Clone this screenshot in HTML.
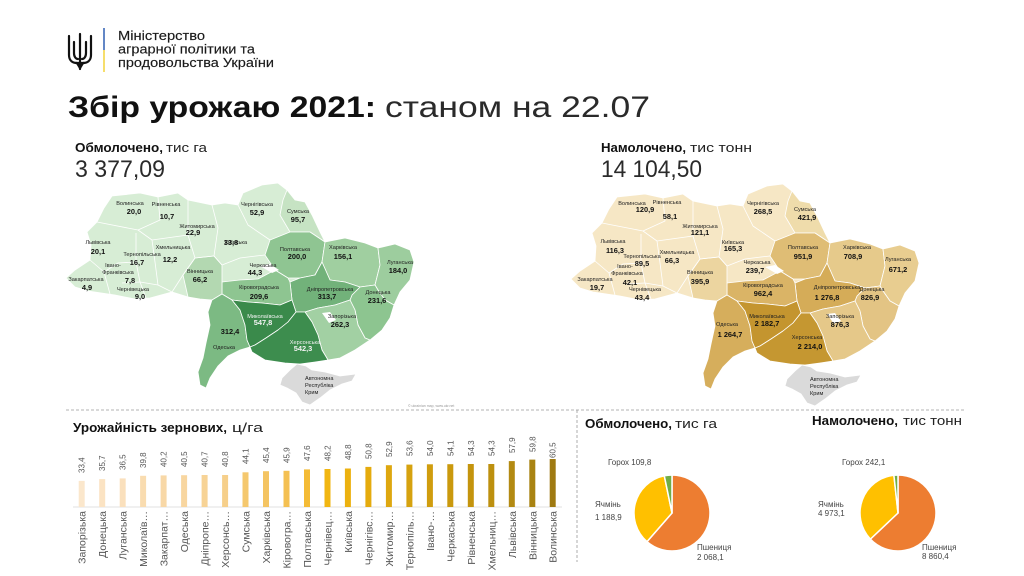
<!DOCTYPE html>
<html><head><meta charset="utf-8"><style>
html,body{margin:0;padding:0;background:#fff;}
svg{display:block;}
text{font-family:"Liberation Sans","DejaVu Sans",sans-serif;}
.nm{font-size:5.6px;fill:#222;text-anchor:middle;}
.vl{font-size:7.4px;font-weight:bold;fill:#111;text-anchor:middle;}
.wt{fill:#f4f4f4;}
.bv{font-size:8px;fill:#555;}
.bc{font-size:10.5px;fill:#555;text-anchor:end;}
.pl{font-size:8px;fill:#444;}
</style></head><body>
<svg width="1024" height="576" viewBox="0 0 1024 576" xmlns="http://www.w3.org/2000/svg">
<rect width="1024" height="576" fill="#fff"/>

<!-- trident -->
<g transform="translate(67,33)" fill="none" stroke="#111" stroke-width="2.2" stroke-linecap="round" stroke-linejoin="round">
<path d="M2,3 L2,22 C2,28 6,30 10,30"/>
<path d="M24,3 L24,22 C24,28 20,30 16,30"/>
<path d="M13,1 L13,36"/>
<path d="M7,9 L7,20 C7,24 9,26 11,26"/>
<path d="M19,9 L19,20 C19,24 17,26 15,26"/>
<path d="M9,30 L17,30 M10,30 L13,35 L16,30"/>
</g>
<line x1="104" y1="28" x2="104" y2="50" stroke="#2f5fb3" stroke-width="1.5"/>
<line x1="104" y1="50" x2="104" y2="72" stroke="#f3d23a" stroke-width="1.5"/>
<g fill="#1a1a1a" stroke="#1a1a1a" stroke-width="0.15" font-size="13">
<text x="118" y="40" textLength="87" lengthAdjust="spacingAndGlyphs">Міністерство</text>
<text x="118" y="53.5" textLength="137" lengthAdjust="spacingAndGlyphs">аграрної політики та</text>
<text x="118" y="67" textLength="156" lengthAdjust="spacingAndGlyphs">продовольства України</text>
</g>

<!-- title -->
<text x="68" y="117" font-size="30" font-weight="bold" fill="#111" textLength="308" lengthAdjust="spacingAndGlyphs">Збір урожаю 2021:</text>
<text x="385" y="117" font-size="30" fill="#2a2a2a" textLength="265" lengthAdjust="spacingAndGlyphs">станом на 22.07</text>

<text x="75" y="152" font-size="13" font-weight="bold" fill="#111" textLength="88" lengthAdjust="spacingAndGlyphs">Обмолочено,</text>
<text x="166" y="152" font-size="13" fill="#222" textLength="41" lengthAdjust="spacingAndGlyphs">тис га</text>
<text x="75" y="177" font-size="24" fill="#2a2a2a" textLength="90" lengthAdjust="spacingAndGlyphs">3 377,09</text>

<text x="601" y="152" font-size="13" font-weight="bold" fill="#111" textLength="85" lengthAdjust="spacingAndGlyphs">Намолочено,</text>
<text x="690" y="152" font-size="13" fill="#222" textLength="62" lengthAdjust="spacingAndGlyphs">тис тонн</text>
<text x="601" y="177" font-size="24" fill="#2a2a2a" textLength="101" lengthAdjust="spacingAndGlyphs">14 104,50</text>

<!-- dashed separators -->
<line x1="66" y1="410" x2="966" y2="410" stroke="#9a9a9a" stroke-width="0.8" stroke-dasharray="3,2"/>
<line x1="577" y1="410" x2="577" y2="562" stroke="#9a9a9a" stroke-width="0.8" stroke-dasharray="3,2"/>

<!-- LEFT MAP -->
<g stroke="#fff" stroke-width="0.8" stroke-linejoin="round">
<path fill="#d7edd5" d="M112,196 L140,193 L158,197 L178,193 L188,200 L212,205 L225,203 L238,205 L243,193 L262,185 L278,183 L287,190 L295,200 L305,202 L312,215 L320,232 L325,242 L345,238 L365,243 L378,248 L395,244 L410,250 L414,262 L410,280 L400,292 L394,305 L390,318 L382,330 L370,340 L355,350 L340,358 L328,360 L315,362 L300,364 L285,363 L265,360 L252,352 L250,347 L240,350 L228,356 L218,366 L210,378 L206,388 L200,385 L198,372 L203,358 L206,343 L210,325 L208,312 L212,300 L200,299 L188,297 L172,292 L150,298 L135,299 L115,295 L88,291 L75,287 L66,278 L75,270 L90,260 L91,245 L87,232 L97,222 L104,208 Z"/>
<path fill="#c6e3c3" d="M287,190 L295,200 L305,202 L312,215 L320,232 L325,242 L310,232 L290,232 L280,215 L283,200 Z"/>
<path fill="#8fc592" d="M270,240 L290,232 L310,232 L325,242 L322,262 L315,275 L300,278 L288,278 L275,270 L265,255 Z"/>
<path fill="#a0cfa0" d="M325,242 L345,238 L365,243 L378,248 L380,265 L375,285 L360,287 L345,282 L330,280 L322,262 Z"/>
<path fill="#9dcd9e" d="M378,248 L395,244 L410,250 L414,262 L410,280 L400,292 L394,305 L385,300 L378,290 L375,285 L380,265 Z"/>
<path fill="#8dc590" d="M360,287 L375,285 L378,290 L385,300 L394,305 L390,318 L382,330 L370,340 L365,338 L358,325 L355,310 L350,300 L352,295 Z"/>
<path fill="#72b27a" d="M290,282 L300,278 L315,275 L322,262 L330,280 L345,282 L360,287 L352,295 L350,300 L335,305 L318,308 L305,312 L296,312 L292,300 Z"/>
<path fill="#a2d0a3" d="M305,312 L318,308 L335,305 L350,300 L355,310 L358,325 L365,338 L370,340 L355,350 L340,358 L328,360 L322,350 L318,335 L312,322 Z"/>
<path fill="#8ec591" d="M222,282 L240,280 L258,279 L275,270 L288,278 L290,282 L292,300 L280,305 L262,303 L248,302 L232,300 L222,294 Z"/>
<path fill="#b3d8b1" d="M195,258 L214,256 L222,265 L222,282 L222,294 L212,300 L200,299 L188,297 L183,275 Z"/>
<path fill="#7cba83" d="M212,300 L222,294 L232,300 L240,310 L245,325 L247,340 L250,347 L240,350 L228,356 L218,366 L210,378 L206,388 L200,385 L198,372 L203,358 L206,343 L210,325 L208,312 Z"/>
<path fill="#3a8a4b" d="M232,300 L248,302 L262,303 L280,305 L292,300 L296,312 L288,322 L278,330 L266,338 L255,345 L250,347 L247,340 L245,325 L240,310 Z"/>
<path fill="#3d8d4e" d="M296,312 L305,312 L312,322 L318,335 L322,350 L328,360 L315,362 L300,364 L285,363 L265,360 L252,352 L250,347 L255,345 L266,338 L278,330 L288,322 Z"/>
<path fill="#dadada" d="M282,378 L290,370 L297,364 L306,366 L312,370 L325,372 L340,376 L356,374 L352,381 L342,384 L330,390 L320,398 L310,405 L302,402 L296,393 L287,388 L280,385 Z"/>
<g fill="none">
<polyline points="158,197 160,220 138,230"/><polyline points="97,222 138,230"/><polyline points="188,200 188,235"/>
<polyline points="138,230 152,240 188,235"/><polyline points="136,233 136,262"/><polyline points="136,262 118,263 104,272"/>
<polyline points="90,260 104,272 110,294"/><polyline points="136,262 140,282 146,298"/><polyline points="122,283 140,282 158,285"/>
<polyline points="152,240 155,262 158,285 172,292"/><polyline points="188,235 195,258 183,275 172,292"/>
<polyline points="212,205 218,228 214,256 195,258"/><polyline points="238,205 248,225 270,240"/>
<polyline points="214,256 222,265 240,258 256,256 265,255"/>
</g>
<path fill="#fff" stroke="none" d="M260,266 L270,264 L279,270 L272,273 Z M322,313 L330,312 L336,320 L329,323 Z"/>
</g>
<g>
<text class="nm" x="130" y="205">Волинська</text><text class="vl" x="134" y="214">20,0</text>
<text class="nm" x="166" y="206">Рівненська</text><text class="vl" x="167" y="219">10,7</text>
<text class="nm" x="197" y="228">Житомирська</text><text class="vl" x="193" y="235">22,9</text>
<text class="nm" x="236" y="244">Київська</text><text class="vl" x="231" y="245">33,8</text>
<text class="nm" x="257" y="206">Чернігівська</text><text class="vl" x="257" y="215">52,9</text>
<text class="nm" x="298" y="213">Сумська</text><text class="vl" x="298" y="222">95,7</text>
<text class="nm" x="98" y="244">Львівська</text><text class="vl" x="98" y="254">20,1</text>
<text class="nm" x="142" y="256">Тернопільська</text><text class="vl" x="137" y="265">16,7</text>
<text class="nm" x="173" y="249">Хмельницька</text><text class="vl" x="170" y="262">12,2</text>
<text class="nm" x="113" y="267">Івано-</text><text class="nm" x="118" y="274">Франківська</text><text class="vl" x="130" y="283">7,8</text>
<text class="nm" x="86" y="281">Закарпатська</text><text class="vl" x="87" y="290">4,9</text>
<text class="nm" x="133" y="291">Чернівецька</text><text class="vl" x="140" y="299">9,0</text>
<text class="nm" x="200" y="273">Вінницька</text><text class="vl" x="200" y="282">66,2</text>
<text class="nm" x="263" y="267">Черкаська</text><text class="vl" x="255" y="275">44,3</text>
<text class="nm" x="295" y="251">Полтавська</text><text class="vl" x="297" y="259">200,0</text>
<text class="nm" x="343" y="249">Харківська</text><text class="vl" x="343" y="259">156,1</text>
<text class="nm" x="400" y="264">Луганська</text><text class="vl" x="398" y="273">184,0</text>
<text class="nm" x="259" y="289">Кіровоградська</text><text class="vl" x="259" y="299">209,6</text>
<text class="nm" x="330" y="291">Дніпропетровська</text><text class="vl" x="327" y="299">313,7</text>
<text class="nm" x="378" y="294">Донецька</text><text class="vl" x="377" y="303">231,6</text>
<text class="nm wt" x="265" y="318">Миколаївська</text><text class="vl wt" x="263" y="325">547,8</text>
<text class="nm" x="342" y="318">Запорізька</text><text class="vl" x="340" y="327">262,3</text>
<text class="nm" x="224" y="349">Одеська</text><text class="vl" x="230" y="334">312,4</text>
<text class="nm wt" x="305" y="344">Херсонська</text><text class="vl wt" x="303" y="351">542,3</text>
<text class="nm" x="305" y="380" style="text-anchor:start">Автономна</text>
<text class="nm" x="305" y="387" style="text-anchor:start">Республіка</text>
<text class="nm" x="305" y="394" style="text-anchor:start">Крим</text>
<text x="408" y="407" font-size="3.5" fill="#999">© ukrainian map, www.ukr.net</text>
</g>

<!-- RIGHT MAP -->
<g transform="translate(505,1)" stroke="#fff" stroke-width="0.8" stroke-linejoin="round">
<path fill="#f6e7c5" d="M112,196 L140,193 L158,197 L178,193 L188,200 L212,205 L225,203 L238,205 L243,193 L262,185 L278,183 L287,190 L295,200 L305,202 L312,215 L320,232 L325,242 L345,238 L365,243 L378,248 L395,244 L410,250 L414,262 L410,280 L400,292 L394,305 L390,318 L382,330 L370,340 L355,350 L340,358 L328,360 L315,362 L300,364 L285,363 L265,360 L252,352 L250,347 L240,350 L228,356 L218,366 L210,378 L206,388 L200,385 L198,372 L203,358 L206,343 L210,325 L208,312 L212,300 L200,299 L188,297 L172,292 L150,298 L135,299 L115,295 L88,291 L75,287 L66,278 L75,270 L90,260 L91,245 L87,232 L97,222 L104,208 Z"/>
<path fill="#efdcab" d="M287,190 L295,200 L305,202 L312,215 L320,232 L325,242 L310,232 L290,232 L280,215 L283,200 Z"/>
<path fill="#dfbd75" d="M270,240 L290,232 L310,232 L325,242 L322,262 L315,275 L300,278 L288,278 L275,270 L265,255 Z"/>
<path fill="#e6ca8b" d="M325,242 L345,238 L365,243 L378,248 L380,265 L375,285 L360,287 L345,282 L330,280 L322,262 Z"/>
<path fill="#e8cd90" d="M378,248 L395,244 L410,250 L414,262 L410,280 L400,292 L394,305 L385,300 L378,290 L375,285 L380,265 Z"/>
<path fill="#e3c484" d="M360,287 L375,285 L378,290 L385,300 L394,305 L390,318 L382,330 L370,340 L365,338 L358,325 L355,310 L350,300 L352,295 Z"/>
<path fill="#d5ac58" d="M290,282 L300,278 L315,275 L322,262 L330,280 L345,282 L360,287 L352,295 L350,300 L335,305 L318,308 L305,312 L296,312 L292,300 Z"/>
<path fill="#e5c889" d="M305,312 L318,308 L335,305 L350,300 L355,310 L358,325 L365,338 L370,340 L355,350 L340,358 L328,360 L322,350 L318,335 L312,322 Z"/>
<path fill="#dab466" d="M222,282 L240,280 L258,279 L275,270 L288,278 L290,282 L292,300 L280,305 L262,303 L248,302 L232,300 L222,294 Z"/>
<path fill="#ecd5a0" d="M195,258 L214,256 L222,265 L222,282 L222,294 L212,300 L200,299 L188,297 L183,275 Z"/>
<path fill="#d6ae5c" d="M212,300 L222,294 L232,300 L240,310 L245,325 L247,340 L250,347 L240,350 L228,356 L218,366 L210,378 L206,388 L200,385 L198,372 L203,358 L206,343 L210,325 L208,312 Z"/>
<path fill="#c4952f" d="M232,300 L248,302 L262,303 L280,305 L292,300 L296,312 L288,322 L278,330 L266,338 L255,345 L250,347 L247,340 L245,325 L240,310 Z"/>
<path fill="#c59731" d="M296,312 L305,312 L312,322 L318,335 L322,350 L328,360 L315,362 L300,364 L285,363 L265,360 L252,352 L250,347 L255,345 L266,338 L278,330 L288,322 Z"/>
<path fill="#dadada" d="M282,378 L290,370 L297,364 L306,366 L312,370 L325,372 L340,376 L356,374 L352,381 L342,384 L330,390 L320,398 L310,405 L302,402 L296,393 L287,388 L280,385 Z"/>
<g fill="none">
<polyline points="158,197 160,220 138,230"/><polyline points="97,222 138,230"/><polyline points="188,200 188,235"/>
<polyline points="138,230 152,240 188,235"/><polyline points="136,233 136,262"/><polyline points="136,262 118,263 104,272"/>
<polyline points="90,260 104,272 110,294"/><polyline points="136,262 140,282 146,298"/><polyline points="122,283 140,282 158,285"/>
<polyline points="152,240 155,262 158,285 172,292"/><polyline points="188,235 195,258 183,275 172,292"/>
<polyline points="212,205 218,228 214,256 195,258"/><polyline points="238,205 248,225 270,240"/>
<polyline points="214,256 222,265 240,258 256,256 265,255"/>
</g>
<path fill="#fff" stroke="none" d="M260,266 L270,264 L279,270 L272,273 Z M322,313 L330,312 L336,320 L329,323 Z"/>
</g>
<g>
<text class="nm" x="632" y="205">Волинська</text><text class="vl" x="645" y="212">120,9</text>
<text class="nm" x="667" y="204">Рівненська</text><text class="vl" x="670" y="219">58,1</text>
<text class="nm" x="700" y="228">Житомирська</text><text class="vl" x="700" y="235">121,1</text>
<text class="nm" x="733" y="244">Київська</text><text class="vl" x="733" y="251">165,3</text>
<text class="nm" x="763" y="205">Чернігівська</text><text class="vl" x="763" y="214">268,5</text>
<text class="nm" x="805" y="211">Сумська</text><text class="vl" x="807" y="220">421,9</text>
<text class="nm" x="613" y="243">Львівська</text><text class="vl" x="615" y="253">116,3</text>
<text class="nm" x="642" y="258">Тернопільська</text><text class="vl" x="642" y="266">89,5</text>
<text class="nm" x="677" y="254">Хмельницька</text><text class="vl" x="672" y="263">66,3</text>
<text class="nm" x="625" y="268">Івано-</text><text class="nm" x="627" y="275">Франківська</text><text class="vl" x="630" y="285">42,1</text>
<text class="nm" x="595" y="281">Закарпатська</text><text class="vl" x="597" y="290">19,7</text>
<text class="nm" x="645" y="291">Чернівецька</text><text class="vl" x="642" y="300">43,4</text>
<text class="nm" x="700" y="274">Вінницька</text><text class="vl" x="700" y="284">395,9</text>
<text class="nm" x="757" y="264">Черкаська</text><text class="vl" x="755" y="273">239,7</text>
<text class="nm" x="803" y="249">Полтавська</text><text class="vl" x="803" y="259">951,9</text>
<text class="nm" x="857" y="249">Харківська</text><text class="vl" x="853" y="259">708,9</text>
<text class="nm" x="898" y="261">Луганська</text><text class="vl" x="898" y="272">671,2</text>
<text class="nm" x="763" y="287">Кіровоградська</text><text class="vl" x="763" y="296">962,4</text>
<text class="nm" x="837" y="289">Дніпропетровська</text><text class="vl" x="827" y="300">1 276,8</text>
<text class="nm" x="872" y="291">Донецька</text><text class="vl" x="870" y="300">826,9</text>
<text class="nm" x="767" y="318">Миколаївська</text><text class="vl" x="767" y="326">2 182,7</text>
<text class="nm" x="840" y="318">Запорізька</text><text class="vl" x="840" y="327">876,3</text>
<text class="nm" x="727" y="326">Одеська</text><text class="vl" x="730" y="337">1 264,7</text>
<text class="nm" x="807" y="339">Херсонська</text><text class="vl" x="810" y="349">2 214,0</text>
<text class="nm" x="810" y="381" style="text-anchor:start">Автономна</text>
<text class="nm" x="810" y="388" style="text-anchor:start">Республіка</text>
<text class="nm" x="810" y="395" style="text-anchor:start">Крим</text>
</g>

<!-- BAR CHART -->
<text x="73" y="432" font-size="13" font-weight="bold" fill="#111" textLength="154" lengthAdjust="spacingAndGlyphs">Урожайність зернових,</text>
<text x="232" y="432" font-size="13" fill="#222" textLength="31" lengthAdjust="spacingAndGlyphs">ц/га</text>
<line x1="73" y1="507" x2="562" y2="507" stroke="#d9d9d9" stroke-width="0.8"/>
<g>
<rect x="78.7" y="480.9" width="6" height="26.1" fill="#fbe7cc"/>
<rect x="99.2" y="479.1" width="6" height="27.9" fill="#fbe3c3"/>
<rect x="119.7" y="478.4" width="6" height="28.6" fill="#fae0bd"/>
<rect x="140.1" y="475.8" width="6" height="31.2" fill="#f9dcb0"/>
<rect x="160.6" y="475.4" width="6" height="31.6" fill="#f8d8a7"/>
<rect x="181.1" y="475.2" width="6" height="31.8" fill="#f8d6a0"/>
<rect x="201.6" y="475.0" width="6" height="32.0" fill="#f7d396"/>
<rect x="222.1" y="475.0" width="6" height="32.0" fill="#f6cf8a"/>
<rect x="242.5" y="472.3" width="6" height="34.7" fill="#f5c86e"/>
<rect x="263.0" y="471.2" width="6" height="35.8" fill="#f4c462"/>
<rect x="283.5" y="470.8" width="6" height="36.2" fill="#f4c052"/>
<rect x="304.0" y="469.4" width="6" height="37.6" fill="#f4bb35"/>
<rect x="324.5" y="469.0" width="6" height="38.0" fill="#f1b612"/>
<rect x="344.9" y="468.5" width="6" height="38.5" fill="#ecb10f"/>
<rect x="365.4" y="466.9" width="6" height="40.1" fill="#e5ab0d"/>
<rect x="385.9" y="465.2" width="6" height="41.8" fill="#dea70f"/>
<rect x="406.4" y="464.6" width="6" height="42.4" fill="#d6a20f"/>
<rect x="426.9" y="464.3" width="6" height="42.7" fill="#d09d0e"/>
<rect x="447.3" y="464.2" width="6" height="42.8" fill="#ca990d"/>
<rect x="467.8" y="464.0" width="6" height="43.0" fill="#c4940d"/>
<rect x="488.3" y="464.0" width="6" height="43.0" fill="#bd900f"/>
<rect x="508.8" y="461.1" width="6" height="45.9" fill="#b38a12"/>
<rect x="529.3" y="459.6" width="6" height="47.4" fill="#a98312"/>
<rect x="549.7" y="459.0" width="6" height="48.0" fill="#9f7a12"/>
</g>
<g>
<text class="bv" transform="translate(84.7,473) rotate(-90)">33,4</text>
<text class="bv" transform="translate(105.2,471) rotate(-90)">35,7</text>
<text class="bv" transform="translate(125.7,470) rotate(-90)">36,5</text>
<text class="bv" transform="translate(146.1,468) rotate(-90)">39,8</text>
<text class="bv" transform="translate(166.6,467) rotate(-90)">40,2</text>
<text class="bv" transform="translate(187.1,467) rotate(-90)">40,5</text>
<text class="bv" transform="translate(207.6,467) rotate(-90)">40,7</text>
<text class="bv" transform="translate(228.1,467) rotate(-90)">40,8</text>
<text class="bv" transform="translate(248.5,464) rotate(-90)">44,1</text>
<text class="bv" transform="translate(269.0,463) rotate(-90)">45,4</text>
<text class="bv" transform="translate(289.5,463) rotate(-90)">45,9</text>
<text class="bv" transform="translate(310.0,461) rotate(-90)">47,6</text>
<text class="bv" transform="translate(330.5,461) rotate(-90)">48,2</text>
<text class="bv" transform="translate(350.9,460) rotate(-90)">48,8</text>
<text class="bv" transform="translate(371.4,459) rotate(-90)">50,8</text>
<text class="bv" transform="translate(391.9,457) rotate(-90)">52,9</text>
<text class="bv" transform="translate(412.4,456) rotate(-90)">53,6</text>
<text class="bv" transform="translate(432.9,456) rotate(-90)">54,0</text>
<text class="bv" transform="translate(453.3,456) rotate(-90)">54,1</text>
<text class="bv" transform="translate(473.8,456) rotate(-90)">54,3</text>
<text class="bv" transform="translate(494.3,456) rotate(-90)">54,3</text>
<text class="bv" transform="translate(514.8,453) rotate(-90)">57,9</text>
<text class="bv" transform="translate(535.3,452) rotate(-90)">59,8</text>
<text class="bv" transform="translate(555.7,458) rotate(-90)">60,5</text>
</g>
<g>
<text class="bc" transform="translate(85.7,511) rotate(-90)">Запорізька</text>
<text class="bc" transform="translate(106.2,511) rotate(-90)">Донецька</text>
<text class="bc" transform="translate(126.7,511) rotate(-90)">Луганська</text>
<text class="bc" transform="translate(147.1,511) rotate(-90)">Миколаїв…</text>
<text class="bc" transform="translate(167.6,511) rotate(-90)">Закарпат…</text>
<text class="bc" transform="translate(188.1,511) rotate(-90)">Одеська</text>
<text class="bc" transform="translate(208.6,511) rotate(-90)">Дніпропе…</text>
<text class="bc" transform="translate(229.1,511) rotate(-90)">Херсонсь…</text>
<text class="bc" transform="translate(249.5,511) rotate(-90)">Сумська</text>
<text class="bc" transform="translate(270.0,511) rotate(-90)">Харківська</text>
<text class="bc" transform="translate(290.5,511) rotate(-90)">Кіровогра…</text>
<text class="bc" transform="translate(311.0,511) rotate(-90)">Полтавська</text>
<text class="bc" transform="translate(331.5,511) rotate(-90)">Чернівец…</text>
<text class="bc" transform="translate(351.9,511) rotate(-90)">Київська</text>
<text class="bc" transform="translate(372.4,511) rotate(-90)">Чернігівс…</text>
<text class="bc" transform="translate(392.9,511) rotate(-90)">Житомир…</text>
<text class="bc" transform="translate(413.4,511) rotate(-90)">Тернопіль…</text>
<text class="bc" transform="translate(433.9,511) rotate(-90)">Івано-…</text>
<text class="bc" transform="translate(454.3,511) rotate(-90)">Черкаська</text>
<text class="bc" transform="translate(474.8,511) rotate(-90)">Рівненська</text>
<text class="bc" transform="translate(495.3,511) rotate(-90)">Хмельниц…</text>
<text class="bc" transform="translate(515.8,511) rotate(-90)">Львівська</text>
<text class="bc" transform="translate(536.3,511) rotate(-90)">Вінницька</text>
<text class="bc" transform="translate(556.7,511) rotate(-90)">Волинська</text>
</g>

<!-- PIE CHARTS -->
<text x="585" y="428" font-size="13" font-weight="bold" fill="#111" textLength="87" lengthAdjust="spacingAndGlyphs">Обмолочено,</text>
<text x="675" y="428" font-size="13" fill="#222" textLength="42" lengthAdjust="spacingAndGlyphs">тис га</text>
<text x="812" y="425" font-size="13" font-weight="bold" fill="#111" textLength="86" lengthAdjust="spacingAndGlyphs">Намолочено,</text>
<text x="903" y="425" font-size="13" fill="#222" textLength="59" lengthAdjust="spacingAndGlyphs">тис тонн</text>

<g stroke="#fff" stroke-width="1.5" stroke-linejoin="round">
<path fill="#ed7d31" d="M672,513 L672,475 A38,38 0 1 1 647.02,541.64 Z"/>
<path fill="#ffc000" d="M672,513 L647.02,541.64 A38,38 0 0 1 664.29,475.79 Z"/>
<path fill="#70ad47" d="M672,513 L664.29,475.79 A38,38 0 0 1 672,475 Z"/>
<path fill="#ed7d31" d="M898,513 L898,475 A38,38 0 1 1 870.39,539.11 Z"/>
<path fill="#ffc000" d="M898,513 L870.39,539.11 A38,38 0 0 1 893.90,475.22 Z"/>
<path fill="#70ad47" d="M898,513 L893.90,475.22 A38,38 0 0 1 898,475 Z"/>
</g>
<text class="pl" x="608" y="465">Горох 109,8</text>
<text class="pl" x="595" y="507">Ячмінь</text>
<text class="pl" x="595" y="520">1 188,9</text>
<text class="pl" x="697" y="550">Пшениця</text>
<text class="pl" x="697" y="560">2 068,1</text>
<text class="pl" x="842" y="465">Горох 242,1</text>
<text class="pl" x="818" y="507">Ячмінь</text>
<text class="pl" x="818" y="516">4 973,1</text>
<text class="pl" x="922" y="550">Пшениця</text>
<text class="pl" x="922" y="559">8 860,4</text>
</svg>
</body></html>
